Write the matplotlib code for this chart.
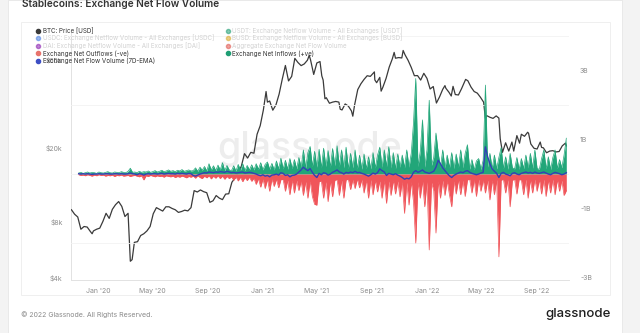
import matplotlib
matplotlib.use("Agg")
import matplotlib.pyplot as plt
import matplotlib.dates as mdates
from matplotlib.patches import Rectangle
from matplotlib.lines import Line2D
from matplotlib.ticker import FixedLocator, FixedFormatter, MultipleLocator, NullLocator, NullFormatter
import pandas as pd

plt.rcParams["font.family"] = ["Inter", "DejaVu Sans"]

# ---------------- data ----------------
price_dates = [
    "2019-11-02", "2019-11-09", "2019-11-16", "2019-11-23", "2019-11-30", "2019-12-07", "2019-12-14",
    "2019-12-18", "2019-12-21", "2019-12-28", "2020-01-04", "2020-01-11", "2020-01-18", "2020-01-25",
    "2020-02-01", "2020-02-08", "2020-02-15", "2020-02-22", "2020-02-29", "2020-03-07", "2020-03-12",
    "2020-03-16", "2020-03-21", "2020-03-28", "2020-04-04", "2020-04-11", "2020-04-18", "2020-04-25",
    "2020-05-02", "2020-05-09", "2020-05-16", "2020-05-23", "2020-05-30", "2020-06-06", "2020-06-13",
    "2020-06-20", "2020-06-27", "2020-07-04", "2020-07-11", "2020-07-18", "2020-07-25", "2020-08-01",
    "2020-08-08", "2020-08-15", "2020-08-22", "2020-08-29", "2020-09-05", "2020-09-12", "2020-09-19",
    "2020-09-26", "2020-10-03", "2020-10-10", "2020-10-17", "2020-10-24", "2020-10-31", "2020-11-07",
    "2020-11-14", "2020-11-21", "2020-11-28", "2020-12-05", "2020-12-12", "2020-12-19", "2020-12-26",
    "2021-01-02", "2021-01-08", "2021-01-11", "2021-01-16", "2021-01-23", "2021-01-30", "2021-02-06",
    "2021-02-13", "2021-02-20", "2021-02-27", "2021-03-06", "2021-03-13", "2021-03-20", "2021-03-27",
    "2021-04-03", "2021-04-10", "2021-04-14", "2021-04-17", "2021-04-24", "2021-05-01", "2021-05-08",
    "2021-05-12", "2021-05-15", "2021-05-19", "2021-05-22", "2021-05-29", "2021-06-05", "2021-06-12",
    "2021-06-19", "2021-06-22", "2021-06-26", "2021-07-03", "2021-07-10", "2021-07-17", "2021-07-20",
    "2021-07-24", "2021-07-31", "2021-08-07", "2021-08-14", "2021-08-21", "2021-08-28", "2021-09-06",
    "2021-09-07", "2021-09-11", "2021-09-18", "2021-09-21", "2021-09-25", "2021-10-02", "2021-10-09",
    "2021-10-16", "2021-10-20", "2021-10-23", "2021-10-30", "2021-11-06", "2021-11-09", "2021-11-13",
    "2021-11-20", "2021-11-27", "2021-12-04", "2021-12-11", "2021-12-18", "2021-12-25", "2022-01-01",
    "2022-01-08", "2022-01-15", "2022-01-22", "2022-01-29", "2022-02-05", "2022-02-10", "2022-02-12",
    "2022-02-19", "2022-02-24", "2022-02-28", "2022-03-05", "2022-03-12", "2022-03-19", "2022-03-28",
    "2022-04-02", "2022-04-09", "2022-04-16", "2022-04-23", "2022-04-30", "2022-05-07", "2022-05-11",
    "2022-05-14", "2022-05-21", "2022-05-28", "2022-06-04", "2022-06-10", "2022-06-13", "2022-06-18",
    "2022-06-25", "2022-07-02", "2022-07-09", "2022-07-13", "2022-07-20", "2022-07-26", "2022-07-30",
    "2022-08-06", "2022-08-13", "2022-08-15", "2022-08-20", "2022-08-27", "2022-09-03", "2022-09-10",
    "2022-09-13", "2022-09-17", "2022-09-24", "2022-10-01", "2022-10-08", "2022-10-15", "2022-10-22",
    "2022-10-29", "2022-11-05", "2022-11-07",
]
price_usd = [
    9300, 8800, 8500, 7300, 7550, 7500, 7100,
    6900, 7150, 7300, 7400, 8050, 8900, 8350,
    9350, 9900, 10300, 9700, 8550, 8900, 4900,
    5000, 6200, 6250, 6750, 6900, 7150, 7550,
    8850, 9550, 9350, 9150, 9650, 9650, 9450,
    9300, 9000, 9100, 9250, 9170, 9550, 11800,
    11600, 11900, 11650, 11500, 10200, 10400, 11100,
    10750, 10550, 11300, 11350, 13100, 13800, 14800,
    16000, 18700, 17700, 19000, 18800, 23800, 26500,
    32200, 40500, 35500, 36000, 32100, 34300, 39200,
    47200, 56000, 46200, 48900, 61200, 58100, 55900,
    57100, 59800, 63500, 60000, 50100, 57800, 58800,
    49200, 46700, 37000, 37500, 35000, 35500, 35800,
    35500, 32500, 32200, 34700, 33800, 31800, 29800,
    34300, 41500, 44600, 47100, 49300, 48900, 51700,
    46800, 45200, 48300, 40700, 42800, 47700, 54900,
    60900, 65900, 61300, 61800, 61500, 67500, 64100,
    59700, 54700, 49300, 49400, 46700, 50800, 47700,
    41800, 43100, 35100, 37900, 41600, 43600, 42200,
    40100, 38300, 43200, 39000, 38800, 42000, 47100,
    46300, 42800, 40500, 39700, 37700, 35500, 29000,
    30000, 29400, 29000, 29900, 29100, 22500, 19000,
    21400, 19300, 21600, 19300, 23400, 21300, 23800,
    23200, 24400, 24100, 21100, 20000, 19800, 21600,
    20200, 20100, 18900, 19300, 19400, 19100, 19200,
    20600, 21300, 20600,
]

flow_start = "2019-11-18"
flow_step_days = 5

# Exchange net inflows (+ve), billions USD
inflows_b = [
    0.03, 0.05, 0.02, 0.04, 0.06, 0.03, 0.05, 0.04, 0.02, 0.06,
    0.04, 0.03, 0.05, 0.07, 0.04, 0.03, 0.06, 0.05, 0.04, 0.07,
    0.05, 0.04, 0.08, 0.17,
    0.05, 0.06, 0.04, 0.08, 0.05, 0.07, 0.06, 0.09, 0.05, 0.07,
    0.10, 0.06, 0.08, 0.11, 0.07, 0.09, 0.12, 0.08, 0.10, 0.07,
    0.11, 0.09, 0.13, 0.08, 0.10, 0.12, 0.09,
    0.10, 0.18, 0.08, 0.20, 0.11, 0.22, 0.09, 0.30, 0.12, 0.24, 0.10, 0.26, 0.12, 0.33, 0.10, 0.25, 0.12,
    0.10, 0.24, 0.09, 0.28, 0.11, 0.30, 0.10, 0.25, 0.12, 0.27,
    0.12, 0.30, 0.14, 0.33, 0.12, 0.28, 0.35, 0.14, 0.31, 0.12, 0.38, 0.15, 0.46,
    0.15, 0.40, 0.14, 0.45, 0.16, 0.42, 0.15, 0.48,
    0.20, 0.70, 0.18, 0.62, 0.80, 0.22, 0.66, 0.20, 0.72,
    0.18, 0.75, 0.22, 0.68, 0.20, 0.74, 0.24,
    0.82, 0.22, 0.70, 0.18, 0.78,
    0.16, 0.60, 0.18, 0.70, 0.15, 0.55,
    0.14, 0.58, 0.16, 0.50, 0.15, 0.62, 0.18, 0.55,
    0.78, 0.20, 0.70, 0.22, 0.79, 0.18, 0.62, 0.16, 0.58, 0.20,
    0.55, 0.18, 0.70, 0.20, 0.60, 1.48,
    2.77,
    0.22, 0.65, 1.57, 0.20, 0.70,
    2.14,
    0.25, 0.48, 1.19,
    0.60, 0.20, 0.70, 0.18, 0.55,
    0.18, 0.62, 0.16, 0.58,
    0.20, 0.70, 0.18, 0.60, 0.85,
    0.14, 0.42, 0.12, 0.38, 0.45, 0.13, 0.40,
    2.58,
    0.20, 0.60, 0.16, 0.55, 0.15, 0.48,
    0.77,
    0.16, 0.50, 0.14, 0.60, 0.18, 0.15, 0.48, 0.14,
    0.45, 0.16, 0.55, 0.18, 0.60, 0.17, 0.70, 0.16,
    0.14, 0.45, 0.70, 0.15, 0.50, 0.13, 0.48, 0.70, 0.16, 0.42,
    0.18, 0.55, 1.04,
]

# Exchange net outflows (-ve), billions USD
outflows_b = [
    -0.02, -0.04, -0.03, -0.05, -0.02, -0.04, -0.06, -0.03, -0.05, -0.02,
    -0.04, -0.03, -0.06, -0.04, -0.05, -0.03, -0.07, -0.04, -0.05, -0.03,
    -0.06, -0.05, -0.04, -0.07, -0.05, -0.04, -0.06, -0.08, -0.05,
    -0.17,
    -0.05, -0.07, -0.04, -0.06, -0.08, -0.05, -0.07, -0.06, -0.09, -0.05,
    -0.07, -0.08, -0.06, -0.10, -0.07, -0.09, -0.06, -0.08, -0.11, -0.07, -0.09,
    -0.06, -0.12, -0.05, -0.10, -0.13, -0.06, -0.11, -0.05, -0.14, -0.06, -0.12, -0.05, -0.13, -0.06, -0.15, -0.07, -0.13,
    -0.08, -0.18, -0.08, -0.20, -0.09, -0.22, -0.10, -0.19, -0.09, -0.21,
    -0.12, -0.30, -0.13, -0.38, -0.14, -0.42, -0.15, -0.50, -0.14, -0.36, -0.15, -0.40, -0.16,
    -0.16, -0.50, -0.18, -0.60, -0.17, -0.55, -0.18, -0.48,
    -0.20, -0.62, -0.22, -0.70, -0.20, -0.65, -0.88, -0.90, -0.22,
    -0.20, -0.70, -0.22, -0.80, -0.20, -0.66, -0.18,
    -0.16, -0.62, -0.18, -0.70, -0.17,
    -0.15, -0.45, -0.16, -0.42, -0.14, -0.40,
    -0.16, -0.55, -0.17, -0.70, -0.16, -0.60, -0.18, -0.52,
    -0.20, -0.70, -0.18, -0.85, -0.20, -0.62, -0.18, -0.58, -0.20, -0.66,
    -0.22, -1.14, -0.24, -0.90, -0.22, -0.80,
    -2.00,
    -0.22, -0.70, -0.20, -0.95, -0.22,
    -2.20,
    -0.24, -0.48, -1.71,
    -0.20, -0.70, -0.18, -0.62, -0.20,
    -0.60, -0.95, -0.20, -0.58,
    -0.16, -0.60, -0.18, -0.65, -0.17,
    -0.15, -0.55, -0.16, -0.65, -0.15, -0.50, -0.17,
    -0.55,
    -0.18, -0.75, -0.17, -0.60, -0.16, -2.40,
    -0.18,
    -0.15, -0.55, -0.16, -0.95, -0.18, -0.15, -0.58, -0.16,
    -0.17, -0.60, -0.15, -0.70, -0.16, -0.55, -0.15, -0.50,
    -0.16, -0.58, -0.15, -0.65, -0.17, -0.55, -0.15, -0.60, -0.16, -0.50,
    -0.18, -0.62, -0.48,
]

# Exchange net flow volume, 7D-EMA, billions USD
ema_b = [
    0.01, 0.00, 0.01, 0.00, 0.01, 0.00, -0.01, 0.00, 0.00, 0.01,
    0.00, 0.00, 0.01, 0.01, 0.00, 0.00, 0.01, 0.01, 0.00, 0.01,
    0.00, 0.00, 0.01, 0.03, 0.01, 0.00, -0.02, 0.01, 0.00, -0.03,
    0.00, 0.01, 0.00, 0.01, 0.01, 0.00, 0.01, 0.02, 0.00, 0.01,
    0.02, 0.01, 0.01, 0.00, 0.02, 0.01, 0.02, 0.01, 0.00, 0.02,
    0.01,
    -0.04, -0.06, -0.03, 0.00, 0.02, 0.04, 0.03, 0.06, 0.05, 0.04, 0.06, 0.05, 0.07, 0.06, 0.05, 0.08, 0.06,
    0.04, 0.05, 0.03, 0.04, 0.05, 0.06, 0.03, 0.04, 0.05, 0.04,
    0.02, 0.00, -0.03, -0.05, -0.02, -0.06, -0.04, -0.08, -0.03, -0.02, 0.00, -0.03, 0.04,
    0.02, -0.04, -0.02, -0.08, -0.04, -0.03, 0.00, 0.06,
    0.12, 0.20, 0.14, 0.10, 0.16, 0.05, -0.04, -0.10, 0.02,
    -0.02, 0.04, 0.02, -0.03, 0.00, 0.05, 0.08,
    0.12, 0.06, 0.04, 0.00, 0.05,
    0.03, 0.06, 0.04, 0.08, 0.04, 0.05,
    0.02, 0.00, -0.03, -0.06, -0.02, 0.03, 0.00, 0.04,
    0.15, 0.10, 0.06, -0.04, 0.02, 0.00, -0.02, 0.01, -0.03, -0.06,
    -0.10, -0.15, -0.12, -0.14, -0.08, 0.05,
    0.10,
    0.05, 0.08, 0.12, 0.06, 0.04,
    0.02,
    0.05, 0.08, 0.20,
    0.40, 0.30, 0.18, 0.10, 0.02,
    -0.05, -0.10, -0.04, 0.00,
    0.03, 0.06, 0.04, 0.08, 0.10,
    0.05, 0.02, 0.00, -0.02, 0.00, 0.03, 0.05,
    0.79,
    0.50, 0.30, 0.15, 0.08, 0.02, -0.10,
    0.02,
    0.05, 0.00, -0.02, -0.05, 0.02, 0.04, 0.00, -0.02,
    0.02, 0.04, 0.06, 0.03, 0.05, 0.02, 0.06, 0.03,
    0.02, 0.04, 0.06, 0.03, 0.00, -0.02, 0.02, 0.05, 0.03, 0.01,
    -0.02, 0.00, 0.04,
]

price_ticks = [4000, 8000, 20000, 60000]
price_tick_labels = ["$4k", "$8k", "$20k", "$60k"]
flow_ticks = [-3, -1, 1, 3]
flow_tick_labels = ["-3B", "-1B", "1B", "3B"]
date_ticks = ["2020-01-01", "2020-05-01", "2020-09-01", "2021-01-01", "2021-05-01",
              "2021-09-01", "2022-01-01", "2022-05-01", "2022-09-01"]
date_tick_labels = ["Jan '20", "May '20", "Sep '20", "Jan '21", "May '21",
                    "Sep '21", "Jan '22", "May '22", "Sep '22"]

legend_left = [
    ("BTC: Price [USD]", "#3a3a3a", True),
    ("USDC: Exchange Netflow Volume - All Exchanges [USDC]", "#4a7fe0", False),
    ("DAI: Exchange Netflow Volume - All Exchanges [DAI]", "#8a1fb0", False),
    ("Exchange Net Outflows (-ve)", "#e8736c", True),
    ("Exchange Net Flow Volume (7D-EMA)", "#3d4fc4", True),
]
legend_right = [
    ("USDT: Exchange Netflow Volume - All Exchanges [USDT]", "#1f9e74", False),
    ("BUSD: Exchange Netflow Volume - All Exchanges [BUSD]", "#d9a92b", False),
    ("Aggregate Exchange Net Flow Volume", "#e0574f", False),
    ("Exchange Net Inflows (+ve)", "#1f9e74", True),
]

assert len(price_dates) == len(price_usd)
assert len(inflows_b) == len(outflows_b) == len(ema_b)

# ---------------- figure ----------------
W, H = 640, 333
fig = plt.figure(figsize=(W / 100, H / 100), dpi=100, facecolor="#f3f3f3")

def fx(px):
    return px / W

def fy(py):
    return 1 - py / H

fig.patches.append(Rectangle((fx(8), 0), fx(614), 1.0, transform=fig.transFigure,
                             facecolor="white", edgecolor="#e6e6e6", lw=0.6, zorder=-10))
fig.patches.append(Rectangle((fx(21), fy(295)), fx(589), (295 - 22) / H, transform=fig.transFigure,
                             facecolor="white", edgecolor="#ededed", lw=0.6, zorder=-9))

left_px, right_px, top_px, bottom_px = 71, 569, 33, 279.6
ax = fig.add_axes([fx(left_px), fy(bottom_px), fx(right_px - left_px), (bottom_px - top_px) / H])
ax.set_facecolor("none")

pdates = pd.to_datetime(price_dates)
fdates = pd.date_range(flow_start, periods=len(inflows_b), freq=f"{flow_step_days}D")

# watermark
ax.text(0.48, 0.53, "glassnode", transform=ax.transAxes, fontsize=27, color="#ededed",
        ha="center", va="center", fontweight="medium", zorder=0)

ax.plot(pdates, price_usd, color="#3a3a3a", lw=0.9, zorder=3)
ax.set_yscale("log")
ax.set_ylim(3900, 83900)
ax.set_xlim(pd.Timestamp("2019-11-01"), pd.Timestamp("2022-11-13"))
ax.yaxis.set_major_locator(FixedLocator(price_ticks))
ax.yaxis.set_major_formatter(FixedFormatter(price_tick_labels))
ax.yaxis.set_minor_locator(NullLocator())
ax.yaxis.set_minor_formatter(NullFormatter())
ax.xaxis.set_major_locator(FixedLocator(mdates.date2num(pd.to_datetime(date_ticks))))
ax.xaxis.set_major_formatter(FixedFormatter(date_tick_labels))
ax.tick_params(axis="both", length=0, labelsize=5, labelcolor="#8c8c8c")
ax.tick_params(axis="y", pad=6)
ax.tick_params(axis="x", pad=6)
for s in ["top", "right"]:
    ax.spines[s].set_visible(False)
for s in ["left", "bottom"]:
    ax.spines[s].set_color("#e2e2e2")
    ax.spines[s].set_linewidth(0.7)

ax2 = ax.twinx()
ax2.set_ylim(-3.06, 4.09)
ax2.yaxis.set_minor_locator(MultipleLocator(1))
ax2.grid(which="minor", axis="y", color="#f2f2f2", lw=0.6)
ax2.set_axisbelow(True)
green = "#22a679"
red = "#f0555a"
ax2.fill_between(fdates, 0, inflows_b, color=green, lw=0, zorder=2)
ax2.plot(fdates, inflows_b, color=green, lw=0.5, zorder=2)
ax2.fill_between(fdates, 0, outflows_b, color=red, lw=0, zorder=2)
ax2.plot(fdates, outflows_b, color=red, lw=0.5, zorder=2)
ax2.plot(fdates, ema_b, color="#3340b5", lw=1.0, zorder=4)
ax2.yaxis.set_major_locator(FixedLocator(flow_ticks))
ax2.yaxis.set_major_formatter(FixedFormatter(flow_tick_labels))
ax2.tick_params(axis="y", which="both", length=0, labelsize=5, labelcolor="#8c8c8c", pad=8)
for s in ax2.spines.values():
    s.set_visible(False)

# legend
rows = [30.5, 38.1, 45.7, 53.3, 60.9]
lfs = 4.5
for (label, color, active), ry in zip(legend_left, rows):
    fig.add_artist(Line2D([fx(38.3)], [fy(ry)], marker="o", markersize=3.0, color=color,
                          alpha=1.0 if active else 0.55, transform=fig.transFigure, lw=0))
    fig.text(fx(43), fy(ry), label, fontsize=lfs, va="center", ha="left",
             color="#333333" if active else "#d2d2d2")
for (label, color, active), ry in zip(legend_right, rows):
    fig.add_artist(Line2D([fx(227.7)], [fy(ry)], marker="o", markersize=3.0, color=color,
                          alpha=1.0 if active else 0.55, transform=fig.transFigure, lw=0))
    fig.text(fx(232.5), fy(ry), label, fontsize=lfs, va="center", ha="left",
             color="#333333" if active else "#d2d2d2")

# title & footer
fig.text(fx(22), fy(7.3), "Stablecoins: Exchange Net Flow Volume", fontsize=7.3,
         fontweight="semibold", color="#333333", va="baseline", ha="left")
fig.text(fx(21), fy(314.5), "\u00a9 2022 Glassnode. All Rights Reserved.", fontsize=5,
         color="#8a8a8a", va="center", ha="left")
fig.text(fx(611), fy(314.5), "glassnode", fontsize=9.5, color="#1e1e1e",
         va="center", ha="right", fontweight="medium")

fig.savefig("out.png", dpi=100, facecolor=fig.get_facecolor())
